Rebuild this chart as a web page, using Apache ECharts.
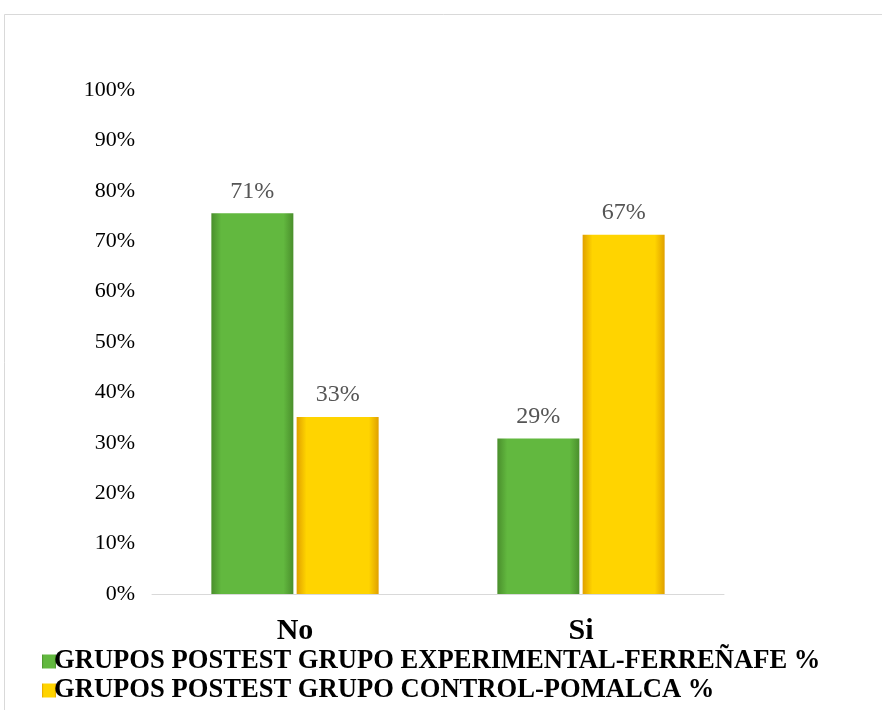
<!DOCTYPE html>
<html>
<head>
<meta charset="utf-8">
<script src="https://cdn.jsdelivr.net/npm/echarts@6/dist/echarts.min.js"></script>
<style>html,body{margin:0;padding:0;background:#fff;}#c{width:882px;height:710px;}</style>
</head>
<body>
<div id="c"></div>
<script>
var categories = ['No', 'Si'];
var seriesNames = ['GRUPOS POSTEST GRUPO EXPERIMENTAL-FERREÑAFE %', 'GRUPOS POSTEST GRUPO CONTROL-POMALCA %'];
var experimental = [71, 29];
var control = [33, 67];
var yTicks = [0, 10, 20, 30, 40, 50, 60, 70, 80, 90, 100];

var FONT = '"Liberation Serif", "Times New Roman", serif';
function hGrad(edge, mid) {
  return new echarts.graphic.LinearGradient(0, 0, 1, 0, [
    {offset: 0, color: edge}, {offset: 0.12, color: mid}, {offset: 0.88, color: mid}, {offset: 1, color: edge}
  ]);
}
var green = hGrad('#4a8f2c', '#62b83f');
var yellow = hGrad('#e0a000', '#ffd400');

var labelStyle = {show: true, position: 'top', distance: 10, fontFamily: FONT, fontSize: 24, color: '#555555', formatter: '{c}%'};

var chart = echarts.init(document.getElementById('c'));
chart.setOption({
  animation: false,
  backgroundColor: '#fff',
  graphic: [{
    type: 'rect', shape: {x: 4.5, y: 14.5, width: 900, height: 720},
    style: {fill: 'none', stroke: '#d9d9d9', lineWidth: 1}
  }],
  grid: {left: 152, right: 158, top: 90, bottom: 116, containLabel: false},
  legend: {
    orient: 'vertical', left: 37, top: 643, itemGap: 2, itemWidth: 14, itemHeight: 14,
    icon: 'rect',
    textStyle: {fontFamily: FONT, fontWeight: 'bold', fontSize: 26.6, color: '#000', padding: [0, 0, 0, -7]},
    data: seriesNames
  },
  xAxis: {
    type: 'category', data: categories,
    axisLine: {lineStyle: {color: '#d9d9d9', width: 1}},
    axisTick: {show: false},
    axisLabel: {fontFamily: FONT, fontWeight: 'bold', fontSize: 30, color: '#000', margin: 22}
  },
  yAxis: [{
    type: 'value', min: 0, max: 100, interval: 10,
    axisLine: {show: false}, axisTick: {show: false}, splitLine: {show: false},
    axisLabel: {fontFamily: FONT, fontSize: 22, color: '#000', margin: 17,
      formatter: function (v) { return yTicks.indexOf(v) >= 0 ? v + '%' : ''; }}
  }, {
    type: 'value', min: 0, max: 94, show: false,
    splitLine: {show: false}
  }],
  series: [{
    name: seriesNames[0], type: 'bar', data: experimental, yAxisIndex: 1,
    barWidth: 82, barGap: '4%',
    itemStyle: {color: green},
    label: labelStyle
  }, {
    name: seriesNames[1], type: 'bar', data: control, yAxisIndex: 1,
    barWidth: 82, barGap: '4%',
    itemStyle: {color: yellow},
    label: labelStyle
  }]
});
</script>
</body>
</html>
